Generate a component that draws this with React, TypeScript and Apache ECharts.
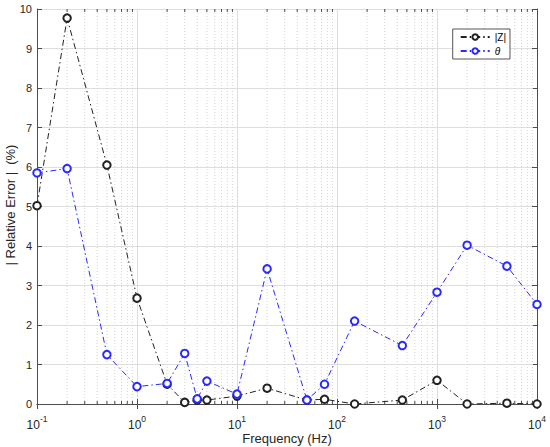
import React, { useEffect, useRef } from "react";
import * as echarts from "echarts";

const freqs = [0.1, 0.2, 0.5, 1, 2, 3, 4, 5, 10, 20, 50, 75, 150, 450, 1000, 2000, 5000, 10000];
const zErr = [5.02, 9.77, 6.05, 2.68, 0.5, 0.04, 0.1, 0.1, 0.2, 0.4, 0.1, 0.12, 0.0, 0.1, 0.6, 0.0, 0.02, 0.0];
const thetaErr = [5.85, 5.96, 1.25, 0.44, 0.52, 1.28, 0.13, 0.58, 0.25, 3.42, 0.1, 0.5, 2.1, 1.48, 2.83, 4.02, 3.49, 2.52];
const seriesNames = ["|Z|", "θ"];
const decades = [0.1, 1, 10, 100, 1000];
const minorMultipliers = [2, 3, 4, 5, 6, 7, 8, 9];
const yMin = 0;
const yMax = 10;
const xTitle = "Frequency (Hz)";
const yTitle = "| Relative Error |  (%)";

const FONT = "'Liberation Sans', Arial, Helvetica, sans-serif";
const AXIS_COLOR = "#4d4d4d";
const LABEL_COLOR = "#262626";

const minorTicks: number[][] = [];
decades.forEach((d) => minorMultipliers.forEach((m) => minorTicks.push([d * m])));

function supLabel(v: number) {
  const e = Math.round(Math.log10(v));
  return "{b|10}{s|" + e + "}";
}

export default function App() {
  const ref = useRef<HTMLDivElement>(null);
  useEffect(() => {
    if (!ref.current) return;
    const chart = echarts.init(ref.current, null, { renderer: "svg" });
    const zData = freqs.map((f, i) => [f, zErr[i]]);
    const tData = freqs.map((f, i) => [f, thetaErr[i]]);
    const dashDot = [6, 3, 1.5, 3];
    chart.setOption({
      animation: false,
      backgroundColor: "#ffffff",
      textStyle: { fontFamily: FONT },
      grid: { left: 37, right: 13, top: 9, bottom: 43, containLabel: false, outerBoundsMode: "none" },
      graphic: [
        {
          type: "text",
          x: 10,
          y: 205,
          rotation: Math.PI / 2,
          style: {
            text: yTitle,
            fontSize: 13,
            fontFamily: FONT,
            fill: LABEL_COLOR,
            align: "center",
            verticalAlign: "middle",
          },
        },
      ],
      legend: {
        right: 40,
        top: 29,
        orient: "vertical",
        backgroundColor: "#ffffff",
        borderColor: "#555555",
        borderWidth: 1,
        borderRadius: 0,
        padding: [3, 4, 3, 7],
        itemGap: 4,
        itemWidth: 29,
        itemHeight: 7,
        data: seriesNames,
        formatter: (n: string) => (n === "θ" ? "{it|θ}" : n),
        textStyle: {
          fontSize: 10,
          color: "#000",
          fontFamily: FONT,
          rich: { it: { fontStyle: "italic", fontSize: 10, fontFamily: FONT, color: "#000" } },
        },
      },
      xAxis: [
        {
          type: "log",
          logBase: 10,
          min: 0.1,
          max: 10000,
          name: xTitle,
          nameLocation: "middle",
          nameGap: 28,
          nameMoveOverlap: false,
          nameTextStyle: { fontSize: 13, color: LABEL_COLOR, fontFamily: FONT },
          axisLine: { show: true, lineStyle: { color: AXIS_COLOR, width: 1 } },
          axisTick: { show: true, inside: true, length: 5, lineStyle: { color: AXIS_COLOR } },
          axisLabel: {
            color: LABEL_COLOR,
            margin: 10,
            showMaxLabel: true,
            showMinLabel: true,
            formatter: (v: number) => supLabel(v),
            rich: {
              b: { fontSize: 12, lineHeight: 17, verticalAlign: "bottom", color: LABEL_COLOR, fontFamily: FONT },
              s: { fontSize: 8.5, verticalAlign: "top", color: LABEL_COLOR, fontFamily: FONT },
            },
          },
          splitLine: { show: true, lineStyle: { color: "#dedede", width: 1 } },
        },
        {
          type: "log",
          logBase: 10,
          min: 0.1,
          max: 10000,
          position: "top",
          axisLine: { show: true, lineStyle: { color: AXIS_COLOR, width: 1 } },
          axisTick: { show: true, inside: true, length: 5, lineStyle: { color: AXIS_COLOR } },
          axisLabel: { show: false },
          splitLine: { show: false },
        },
      ],
      yAxis: [
        {
          type: "value",
          min: yMin,
          max: yMax,
          interval: 1,
          axisLine: { show: true, lineStyle: { color: AXIS_COLOR, width: 1 } },
          axisTick: { show: true, inside: true, length: 5, lineStyle: { color: AXIS_COLOR } },
          axisLabel: { color: LABEL_COLOR, fontSize: 11, margin: 5, fontFamily: FONT },
          splitLine: { show: true, lineStyle: { color: "#dedede", width: 1 } },
        },
        {
          type: "value",
          min: yMin,
          max: yMax,
          interval: 1,
          position: "right",
          axisLine: { show: true, lineStyle: { color: AXIS_COLOR, width: 1 } },
          axisTick: { show: true, inside: true, length: 5, lineStyle: { color: AXIS_COLOR } },
          axisLabel: { show: false },
          splitLine: { show: false },
        },
      ],
      series: [
        {
          type: "custom",
          name: "minor",
          xAxisIndex: 0,
          yAxisIndex: 0,
          silent: true,
          z: 1,
          data: minorTicks,
          renderItem: (params: any, api: any) => {
            const x = api.value(0);
            const b = api.coord([x, yMin]);
            const t = api.coord([x, yMax]);
            return {
              type: "group",
              children: [
                {
                  type: "line",
                  shape: { x1: b[0], y1: b[1], x2: t[0], y2: t[1] },
                  style: { stroke: "#d4d4d4", lineWidth: 1, lineDash: [1, 2] },
                },
                {
                  type: "line",
                  shape: { x1: b[0], y1: b[1], x2: b[0], y2: b[1] - 3 },
                  style: { stroke: AXIS_COLOR, lineWidth: 1 },
                },
                {
                  type: "line",
                  shape: { x1: t[0], y1: t[1], x2: t[0], y2: t[1] + 3 },
                  style: { stroke: AXIS_COLOR, lineWidth: 1 },
                },
              ],
            };
          },
        },
        {
          type: "line",
          name: seriesNames[0],
          data: zData,
          z: 3,
          symbol: "emptyCircle",
          symbolSize: 7.5,
          showSymbol: true,
          color: "#222222",
          lineStyle: { color: "#222222", width: 1, type: dashDot },
          itemStyle: { color: "#222222", borderWidth: 0.9 },
        },
        {
          type: "line",
          name: seriesNames[1],
          data: tData,
          z: 4,
          symbol: "emptyCircle",
          symbolSize: 7.5,
          showSymbol: true,
          color: "#2a2aff",
          lineStyle: { color: "#2a2aff", width: 1, type: dashDot },
          itemStyle: { color: "#2a2aff", borderWidth: 0.9 },
        },
      ],
    });
    return () => chart.dispose();
  }, []);
  return (
    <div
      ref={ref}
      style={{ position: "fixed", left: 0, top: 0, width: 550, height: 447, background: "#fff" }}
    />
  );
}
